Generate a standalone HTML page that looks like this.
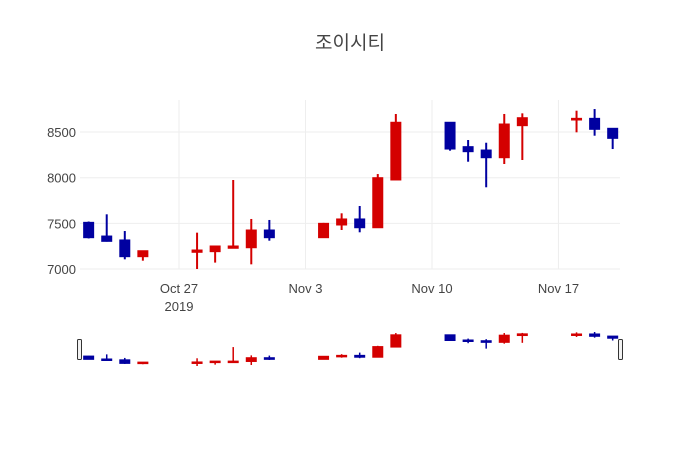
<!DOCTYPE html>
<html><head><meta charset="utf-8"><style>
body{margin:0;background:#fff;font-family:"Liberation Sans","Noto Sans CJK KR",sans-serif}
svg text{font-family:"Liberation Sans","Noto Sans CJK KR",sans-serif;fill:#444}
</style></head><body>
<svg id="c" width="700" height="450">
<text x="350" y="49" text-anchor="middle" font-size="19">조이시티</text>
</svg>
<script>
const dates=["2019-10-22","2019-10-23","2019-10-24","2019-10-25","2019-10-28","2019-10-29","2019-10-30","2019-10-31","2019-11-01","2019-11-04","2019-11-05","2019-11-06","2019-11-07","2019-11-08","2019-11-11","2019-11-12","2019-11-13","2019-11-14","2019-11-15","2019-11-18","2019-11-19","2019-11-20"];
const opens=[7511,7361,7318,7135,7183,7190,7227,7233,7427,7343,7482,7548,7452,7975,8607,8340,8303,8219,8570,8632,8650,8541];
const highs=[7520,7599,7416,7200,7398,7252,7975,7548,7537,7505,7610,7690,8040,8698,8607,8413,8383,8698,8705,8734,8752,8541];
const lows=[7335,7300,7106,7091,7000,7070,7227,7051,7310,7343,7427,7402,7452,7975,8296,8175,7895,8150,8194,8497,8460,8314];
const closes=[7343,7303,7135,7200,7208,7252,7252,7427,7343,7500,7548,7452,8000,8607,8314,8285,8219,8588,8657,8650,8530,8431];
const yTicks=[7000,7500,8000,8500];
const xTicks=[["2019-10-27","Oct 27","2019"],["2019-11-03","Nov 3",""],["2019-11-10","Nov 10",""],["2019-11-17","Nov 17",""]];
const svg=document.getElementById('c');const NS="http://www.w3.org/2000/svg";
const base=Date.UTC(2019,9,27);
function dayOf(s){const p=s.split('-');return (Date.UTC(+p[0],+p[1]-1,+p[2])-base)/86400000;}
function X(s){return 179+dayOf(s)*18.07;}
function Y(v){return 269-(v-7000)*0.0913;}
function YS(v){return 366-(v-7000)*(34/1752);}
function mk(t,a){const e=document.createElementNS(NS,t);for(const k in a)e.setAttribute(k,a[k]);svg.appendChild(e);return e;}
yTicks.forEach(v=>{
 const l=mk('line',{x1:80,x2:620,y1:Y(v),y2:Y(v),stroke:'#eee'});
 
 
 const t=mk('text',{x:76,y:Y(v)+5,'text-anchor':'end','font-size':13});t.textContent=v;
 
 
});
xTicks.forEach(d=>{
 const x=X(d[0]);
 const l=mk('line',{x1:x,x2:x,y1:100,y2:269,stroke:'#eee'});
 
 
 const t=mk('text',{x:x,y:293,'text-anchor':'middle','font-size':13});t.textContent=d[1];
 
 
 if(d[2]){const t2=mk('text',{x:x,y:311,'text-anchor':'middle','font-size':13});t2.textContent=d[2];
 
 }
});
function candle(i,yf,bw,sw,name){
 const x=X(dates[i]);const up=closes[i]>=opens[i];const col=up?'#d40000':'#0000a0';
 const w=mk('line',{x1:x,x2:x,y1:yf(highs[i]),y2:yf(lows[i]),stroke:col,'stroke-width':sw});
 
 
 const top=yf(Math.max(opens[i],closes[i])),bot=yf(Math.min(opens[i],closes[i]));
 const r=mk('rect',{x:x-bw/2,y:top,width:bw,height:Math.max(bot-top,1.5),fill:col,stroke:col,'stroke-width':1});
 
 
}
for(let i=0;i<dates.length;i++){candle(i,Y,10,2,'candle');candle(i,YS,10,1.5,'slider-candle');}
const h1=mk('rect',{x:77.5,y:339.5,width:4,height:20,fill:'#f2f2f2',stroke:'#333','stroke-width':1,rx:1});


const h2=mk('rect',{x:618.5,y:339.5,width:4,height:20,fill:'#f2f2f2',stroke:'#333','stroke-width':1,rx:1});


</script>
</body></html>
